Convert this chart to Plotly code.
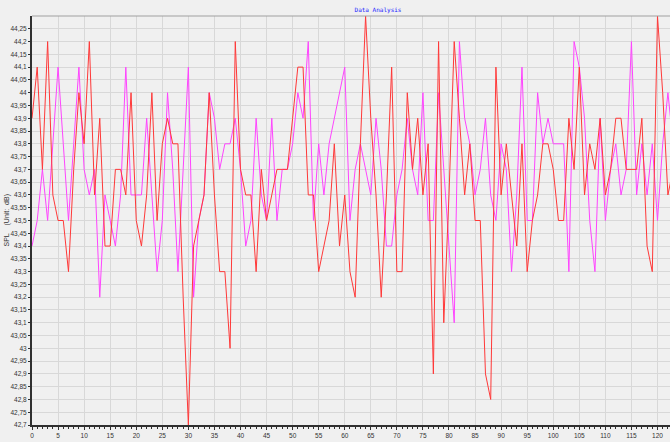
import plotly.graph_objects as go

# ---- data ----
x_index = list(range(0, 124))

red_spl = [43.9, 44.1, 43.7, 44.2, 43.6, 43.5, 43.5, 43.3, 43.7, 44.0,
           43.8, 44.2, 43.6, 43.9, 43.4, 43.4, 43.7, 43.7, 43.6, 44.0,
           43.5, 43.4, 43.6, 44.0, 43.5, 43.8, 43.9, 43.8, 43.8, 43.2,
           42.7, 43.4, 43.5, 43.6, 44.0, 43.6, 43.3, 43.3, 43.0, 44.2,
           43.7, 43.6, 43.6, 43.3, 43.7, 43.5, 43.6, 43.7, 43.7, 43.7,
           43.9, 44.1, 44.1, 43.6, 43.6, 43.3, 43.4, 43.5, 43.8, 43.4,
           43.6, 43.3, 43.2, 43.8, 44.3, 43.9, 43.6, 43.2, 43.6, 44.1,
           43.3, 43.3, 44.0, 43.7, 43.9, 43.6, 43.8, 42.9, 44.2, 43.1,
           43.6, 44.2, 43.9, 43.6, 43.8, 43.5, 43.5, 42.9, 42.8, 44.1,
           43.6, 43.8, 43.6, 43.4, 43.8, 43.3, 43.5, 43.6, 43.8, 43.8,
           43.7, 43.5, 43.5, 43.9, 43.7, 44.1, 43.6, 43.8, 43.7, 43.9,
           43.6, 43.7, 43.9, 43.9, 43.7, 43.7, 43.7, 43.9, 43.4, 43.3,
           44.3, 44.0, 43.6, 43.7]

magenta_spl = [43.4, 43.5, 43.7, 43.5, 43.8, 44.1, 43.8, 43.5, 43.8, 44.1,
               43.7, 43.6, 43.7, 43.2, 43.6, 43.5, 43.4, 43.6, 44.1, 43.6,
               43.6, 43.6, 43.9, 43.6, 43.3, 43.5, 44.0, 43.7, 43.3, 43.7,
               44.1, 43.2, 43.5, 43.6, 44.0, 43.9, 43.7, 43.8, 43.8, 43.9,
               43.7, 43.4, 43.5, 43.9, 43.6, 43.5, 43.9, 43.5, 43.7, 43.7,
               43.8, 44.0, 43.9, 44.2, 43.5, 43.8, 43.6, 43.8, 43.9, 44.0,
               44.1, 43.5, 43.7, 43.8, 43.7, 43.6, 43.9, 43.7, 43.4, 43.4,
               43.6, 43.7, 43.9, 43.7, 43.6, 44.0, 43.5, 43.5, 44.0, 43.7,
               43.4, 43.1, 44.2, 43.9, 43.8, 43.6, 43.7, 43.9, 43.6, 43.5,
               43.8, 43.7, 43.3, 43.6, 44.1, 43.5, 43.5, 44.0, 43.8, 43.9,
               43.8, 43.8, 43.8, 43.3, 44.2, 44.1, 43.9, 43.5, 43.3, 43.9,
               43.5, 43.7, 43.8, 43.6, 43.7, 44.2, 43.6, 43.8, 43.6, 43.8,
               43.5, 43.8, 44.0, 43.8]

y_tick_vals = [42.7, 42.75, 42.8, 42.85, 42.9, 42.95, 43.0, 43.05, 43.1, 43.15,
               43.2, 43.25, 43.3, 43.35, 43.4, 43.45, 43.5, 43.55, 43.6, 43.65,
               43.7, 43.75, 43.8, 43.85, 43.9, 43.95, 44.0, 44.05, 44.1, 44.15,
               44.2, 44.25]
y_tick_text = ["42,7", "42,75", "42,8", "42,85", "42,9", "42,95", "43", "43,05",
               "43,1", "43,15", "43,2", "43,25", "43,3", "43,35", "43,4", "43,45",
               "43,5", "43,55", "43,6", "43,65", "43,7", "43,75", "43,8", "43,85",
               "43,9", "43,95", "44", "44,05", "44,1", "44,15", "44,2", "44,25"]
x_tick_vals = [0, 5, 10, 15, 20, 25, 30, 35, 40, 45, 50, 55, 60, 65, 70, 75,
               80, 85, 90, 95, 100, 105, 110, 115, 120]

fig = go.Figure()
fig.add_trace(go.Scatter(x=x_index, y=magenta_spl, mode="lines",
                         line=dict(color="#ff44ff", width=1), showlegend=False))
fig.add_trace(go.Scatter(x=x_index, y=red_spl, mode="lines",
                         line=dict(color="#ff3838", width=1), showlegend=False))

tick_font = dict(family="Liberation Sans, Arial, sans-serif", size=6.5, color="#333333")

W, H = 670, 442
L, T, B = 32, 16, 17
fig.update_layout(
    width=W, height=H,
    margin=dict(l=L, r=0, t=T, b=B, autoexpand=False),
    paper_bgcolor="#f0f0f0", plot_bgcolor="#f0f0f0",
    title=dict(text="Data Analysis", x=378/W, xanchor="center", y=1 - 10/H, yanchor="middle",
               font=dict(family="DejaVu Sans Mono, monospace", size=6, color="#2020ff")),
    xaxis=dict(range=[0, 122.4], tickvals=x_tick_vals, showgrid=True, gridcolor="#d8d8d8", gridwidth=1,
               zeroline=False, showline=True, linecolor="#303030", linewidth=2, automargin=False,
               ticks="outside", ticklen=3, tickcolor="#303030", tickwidth=1, tickfont=tick_font,
               minor=dict(dtick=1, ticks="outside", ticklen=2, tickcolor="#303030", showgrid=False)),
    yaxis=dict(range=[42.7, 44.3], tickvals=y_tick_vals, ticktext=y_tick_text, showgrid=True,
               gridcolor="#d8d8d8", gridwidth=1, zeroline=False, showline=True, linecolor="#303030",
               linewidth=2, ticks="outside", ticklen=2, tickcolor="#303030", tickwidth=1,
               tickfont=tick_font, automargin=False),
    annotations=[dict(text="SPL\u00a0\u00a0\u00a0\u00a0(Unit:\u00a0\u00a0dB)", textangle=-90,
                      xref="paper", yref="paper", x=(6 - L) / (W - L), y=0.5,
                      xanchor="center", yanchor="middle", showarrow=False,
                      font=dict(family="Liberation Sans, Arial, sans-serif", size=7, color="#333333"))],
    shapes=[dict(type="line", xref="paper", yref="paper", x0=0, x1=1, y0=1, y1=1,
                 line=dict(color="#a0a0a0", width=1))],
)

# remove the default 8px page margin so the figure sits at the window's corner
fig.write_html("out.html", config={"displayModeBar": False},
               post_script="document.body.style.margin='0';document.body.style.overflow='hidden';")
